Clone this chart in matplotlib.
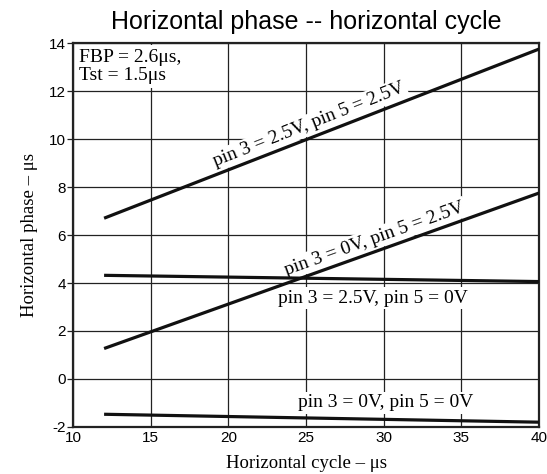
import matplotlib
matplotlib.use("Agg")
import matplotlib.pyplot as plt

plt.rcParams["axes.unicode_minus"] = False

# Data
x_cycle = [12, 40]
phase_25_25 = [6.7, 13.75]
phase_0_25 = [1.27, 7.75]
phase_25_0 = [4.32, 4.06]
phase_0_0 = [-1.47, -1.8]

x_ticks = [10, 15, 20, 25, 30, 35, 40]
y_ticks = [-2, 0, 2, 4, 6, 8, 10, 12, 14]

title = "Horizontal phase -- horizontal cycle"
xlabel = "Horizontal cycle – μs"
ylabel = "Horizontal phase – μs"
labels = ["pin 3 = 2.5V, pin 5 = 2.5V", "pin 3 = 0V, pin 5 = 2.5V",
          "pin 3 = 2.5V, pin 5 = 0V", "pin 3 = 0V, pin 5 = 0V"]
note = "FBP = 2.6μs,\nTst = 1.5μs"

fig = plt.figure(figsize=(5.47, 4.74), dpi=100)
ax = fig.add_axes([0.1335, 0.0992, 0.852, 0.81])

serif = ["Liberation Serif", "DejaVu Serif"]
sans = ["Liberation Sans", "DejaVu Sans"]

for ys in (phase_25_25, phase_0_25, phase_25_0, phase_0_0):
    ax.plot(x_cycle, ys, color="#111111", lw=2.3, zorder=5, solid_capstyle="butt")

ax.set_xlim(10, 40)
ax.set_ylim(-2, 14)
ax.set_xticks(x_ticks)
ax.set_yticks(y_ticks)
ax.grid(True, color="#222222", lw=0.9, zorder=0)
ax.set_axisbelow(True)
for s in ax.spines.values():
    s.set_linewidth(1.6)
    s.set_color("#222222")
ax.tick_params(axis="both", length=4, width=0.9, labelsize=11, pad=1, colors="#222222")
ax.tick_params(axis="x", length=0, pad=3)
for lab in ax.get_xticklabels() + ax.get_yticklabels():
    lab.set_fontfamily(sans)
    lab.set_color("black")

ax.set_title(title, fontsize=18, family=sans, pad=10)
ax.set_xlabel(xlabel, fontsize=13.5, family=serif, labelpad=7)
ax.set_ylabel(ylabel, fontsize=13.5, family=serif, labelpad=8)

fs = 14
bbox = dict(facecolor="white", edgecolor="none", pad=1.5)
ax.text(25.2, 10.6, labels[0], rotation=21.5, ha="center", va="center",
        fontsize=fs, family=serif, bbox=bbox, zorder=3, rotation_mode="anchor")
ax.text(29.4, 5.85, labels[1], rotation=19.7, ha="center", va="center",
        fontsize=fs, family=serif, bbox=bbox, zorder=3, rotation_mode="anchor")
ax.text(29.3, 3.37, labels[2], ha="center", va="center",
        fontsize=fs, family=serif, bbox=bbox, zorder=3)
ax.text(30.1, -1.0, labels[3], ha="center", va="center",
        fontsize=fs, family=serif, bbox=bbox, zorder=3)
ax.text(10.4, 13.75, note, ha="left", va="top", fontsize=fs, family=serif,
        linespacing=1.1, bbox=dict(facecolor="white", edgecolor="none", pad=3), zorder=3)

fig.savefig("out.png", dpi=100)
